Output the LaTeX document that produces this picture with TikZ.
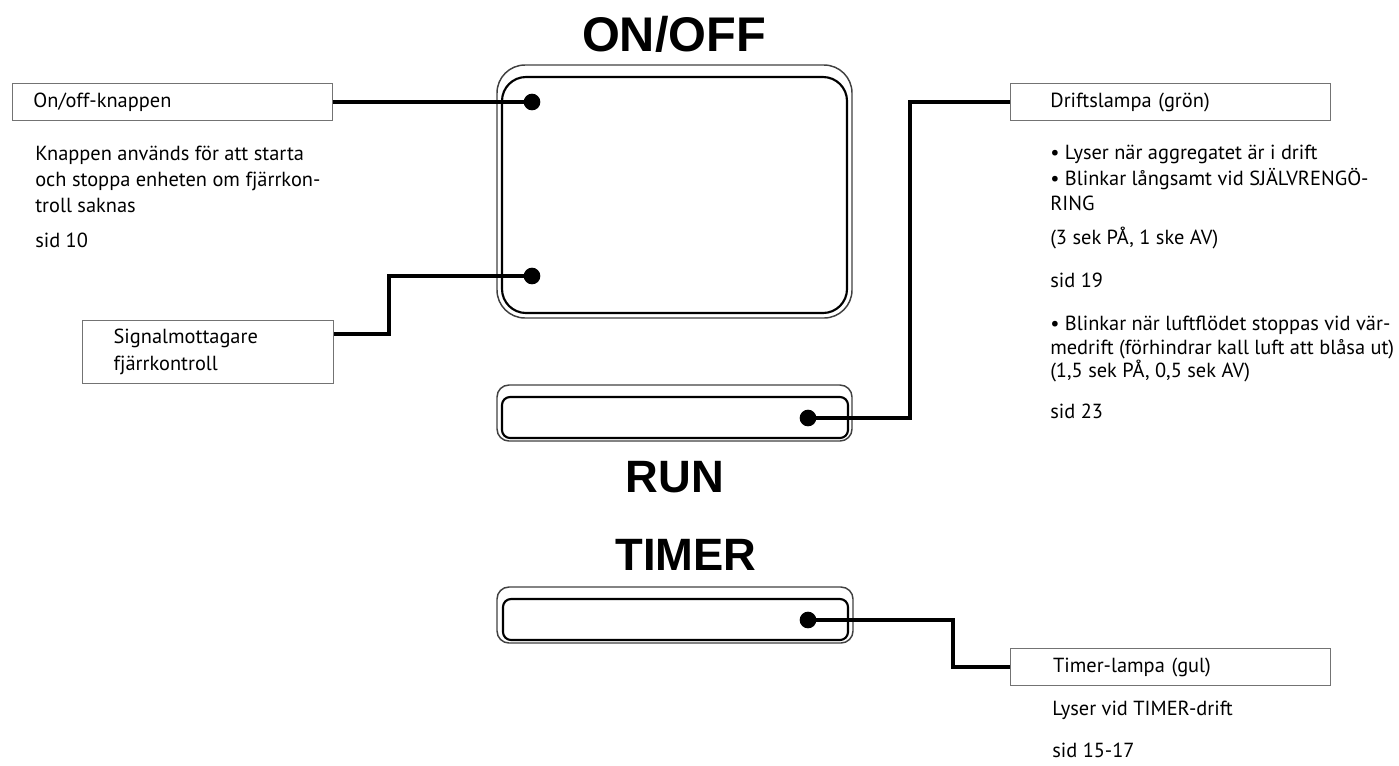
\documentclass[tikz,border=0pt]{standalone}
\usepackage{fontspec}
\setmainfont{PT Sans}
\newfontfamily\headfont{Liberation Sans}
\usetikzlibrary{positioning}

\tikzset{
  lbl/.style={draw=black!55, line width=0.6pt, anchor=west, minimum height=27.75pt,
    align=left, font=\fontsize{15.3}{15.3}\selectfont},
  body/.style={anchor=north west, align=left, inner sep=0pt,
    font=\fontsize{15.3}{19}\selectfont},
  conn/.style={line width=3pt, black},
  lamp/.style={circle, fill=black, inner sep=0pt, minimum size=12.5pt},
  outerline/.style={line width=1.1pt, black!75, rounded corners=#1},
  innerline/.style={line width=1.6pt, black, rounded corners=#1},
  head/.style={font=\headfont\bfseries\fontsize{#1}{#1}\selectfont, inner sep=0pt},
}

\begin{document}
\begin{tikzpicture}[x=0.75pt, y=-0.75pt]
\useasboundingbox (0,0) rectangle (1399,765);

% device panel
\draw[outerline=21pt] (497,65) rectangle (852,318);
\draw[innerline=18pt] (502,77) rectangle (847,313);
\draw[outerline=9pt] (497,385) rectangle (852,441);
\draw[innerline=6pt] (502,397) rectangle (848,438);
\draw[outerline=9pt] (497,587) rectangle (853,643);
\draw[innerline=6pt] (503,599) rectangle (848,640);

\node[head=36.5] (onofftitle) at (674,34) {ON/OFF};
\node[head=34] (runtitle) at (675,477) {RUN};
\node[head=34] (timertitle) at (686,555) {TIMER};

% lamps and buttons
\node[lamp] (dotA) at (532,102) {};
\node[lamp] (dotB) at (532,276) {};
\node[lamp] (dotC) at (808,418) {};
\node[lamp] (dotD) at (808,620) {};

% labels
\node[lbl, inner xsep=15.75pt, text width=208.5pt] (onoffbox) at (12,102) {On/off-knappen};
\node[lbl, anchor=north east, inner xsep=23.25pt, text width=141.75pt, minimum height=47.25pt,
  font=\fontsize{15.3}{20}\selectfont] (sigbox) at (334,320) {Signalmottagare\\fjärrkontroll};
\node[lbl, inner xsep=30pt, text width=180pt] (driftbox) at (1010,102) {Driftslampa (grön)};
\node[lbl, inner xsep=32pt, text width=176pt] (timerbox) at (1010,667) {Timer-lampa (gul)};

% texts
\node[body, font=\fontsize{15.3}{19.5}\selectfont] (onofftext) at (35,146)
  {Knappen används för att starta\\och stoppa enheten om fjärrkon-\\troll saknas};
\node[body] (onoffpage) at (35,233) {sid 10};
\node[body] (drifttext) at (1050,145)
  {• Lyser när aggregatet är i drift\\• Blinkar långsamt vid SJÄLVRENGÖ-\\RING\\[6.5pt](3 sek PÅ, 1 ske AV)};
\node[body] (driftpage) at (1050,273) {sid 19};
\node[body, font=\fontsize{15.3}{17.6}\selectfont] (heattext) at (1050,316)
  {• Blinkar när luftflödet stoppas vid vär-\\medrift (förhindrar kall luft att blåsa ut)\\(1,5 sek PÅ, 0,5 sek AV)};
\node[body] (heatpage) at (1050,404) {sid 23};
\node[body] (timertext) at (1052,701) {Lyser vid TIMER-drift};
\node[body] (timerpage) at (1052,743) {sid 15-17};

% connectors
\coordinate (bendB) at (389,334);
\coordinate (bendC) at (910,418);
\coordinate (bendD) at (953,620);
\draw[conn] (onoffbox.east) -- (dotA.center);
\draw[conn] (dotB.center) -| (bendB) -- (bendB -| sigbox.east);
\draw[conn] (dotC.center) -- (bendC) |- (driftbox.west);
\draw[conn] (dotD.center) -- (bendD) |- (timerbox.west);
\end{tikzpicture}
\end{document}
